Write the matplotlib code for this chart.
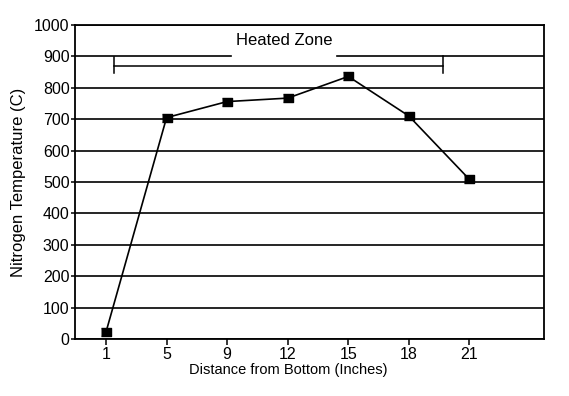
import matplotlib
matplotlib.use("Agg")
import matplotlib.pyplot as plt

plt.rcParams["font.family"] = ["Liberation Sans", "DejaVu Sans"]

positions = ["1", "5", "9", "12", "15", "18", "21"]
temps = [22, 705, 756, 767, 836, 710, 508]
y_ticks = list(range(0, 1001, 100))

fig = plt.figure(figsize=(5.69, 3.96), dpi=100)
ax = fig.add_axes([0.132, 0.144, 0.824, 0.793])

x = list(range(len(positions)))

# horizontal gridlines, the 900 line is broken by the label
for yv in y_ticks:
    if yv == 900:
        ax.axhline(yv, xmin=0, xmax=0.333, color="black", lw=1.2, zorder=1)
        ax.axhline(yv, xmin=0.559, xmax=1, color="black", lw=1.2, zorder=1)
    else:
        ax.axhline(yv, color="black", lw=1.2, zorder=1)

box = [(-1.35, -1), (1.35, -1), (1.35, 1), (-1.35, 1)]
ax.plot(x, temps, color="black", lw=1.2, marker=box, markersize=7.5,
        markerfacecolor="black", zorder=3)

# heated zone bracket
ax.plot([0.13, 5.56], [870, 870], color="black", lw=1.1)
ax.plot([0.13, 0.13], [848, 898], color="black", lw=1.1)
ax.plot([5.56, 5.56], [848, 900], color="black", lw=1.1)
ax.text(2.95, 952, "Heated Zone", ha="center", va="center", fontsize=12)

ax.set_xlim(-0.51, 7.23)
ax.set_ylim(0, 1000)
ax.set_xticks(x)
ax.set_xticklabels(positions)
ax.set_yticks(y_ticks)
ax.tick_params(direction="out", width=1.1, labelsize=11.5)
ax.tick_params(axis="y", length=3, pad=1)
ax.tick_params(axis="x", length=4, pad=2)

for s in ax.spines.values():
    s.set_linewidth(1.3)

ax.set_xlabel("Distance from Bottom (Inches)", fontsize=10.5, labelpad=2)
ax.xaxis.set_label_coords(0.454, -0.075)
ax.set_ylabel("Nitrogen Temperature (C)", fontsize=12, labelpad=6)

fig.savefig("out.png", dpi=100)
